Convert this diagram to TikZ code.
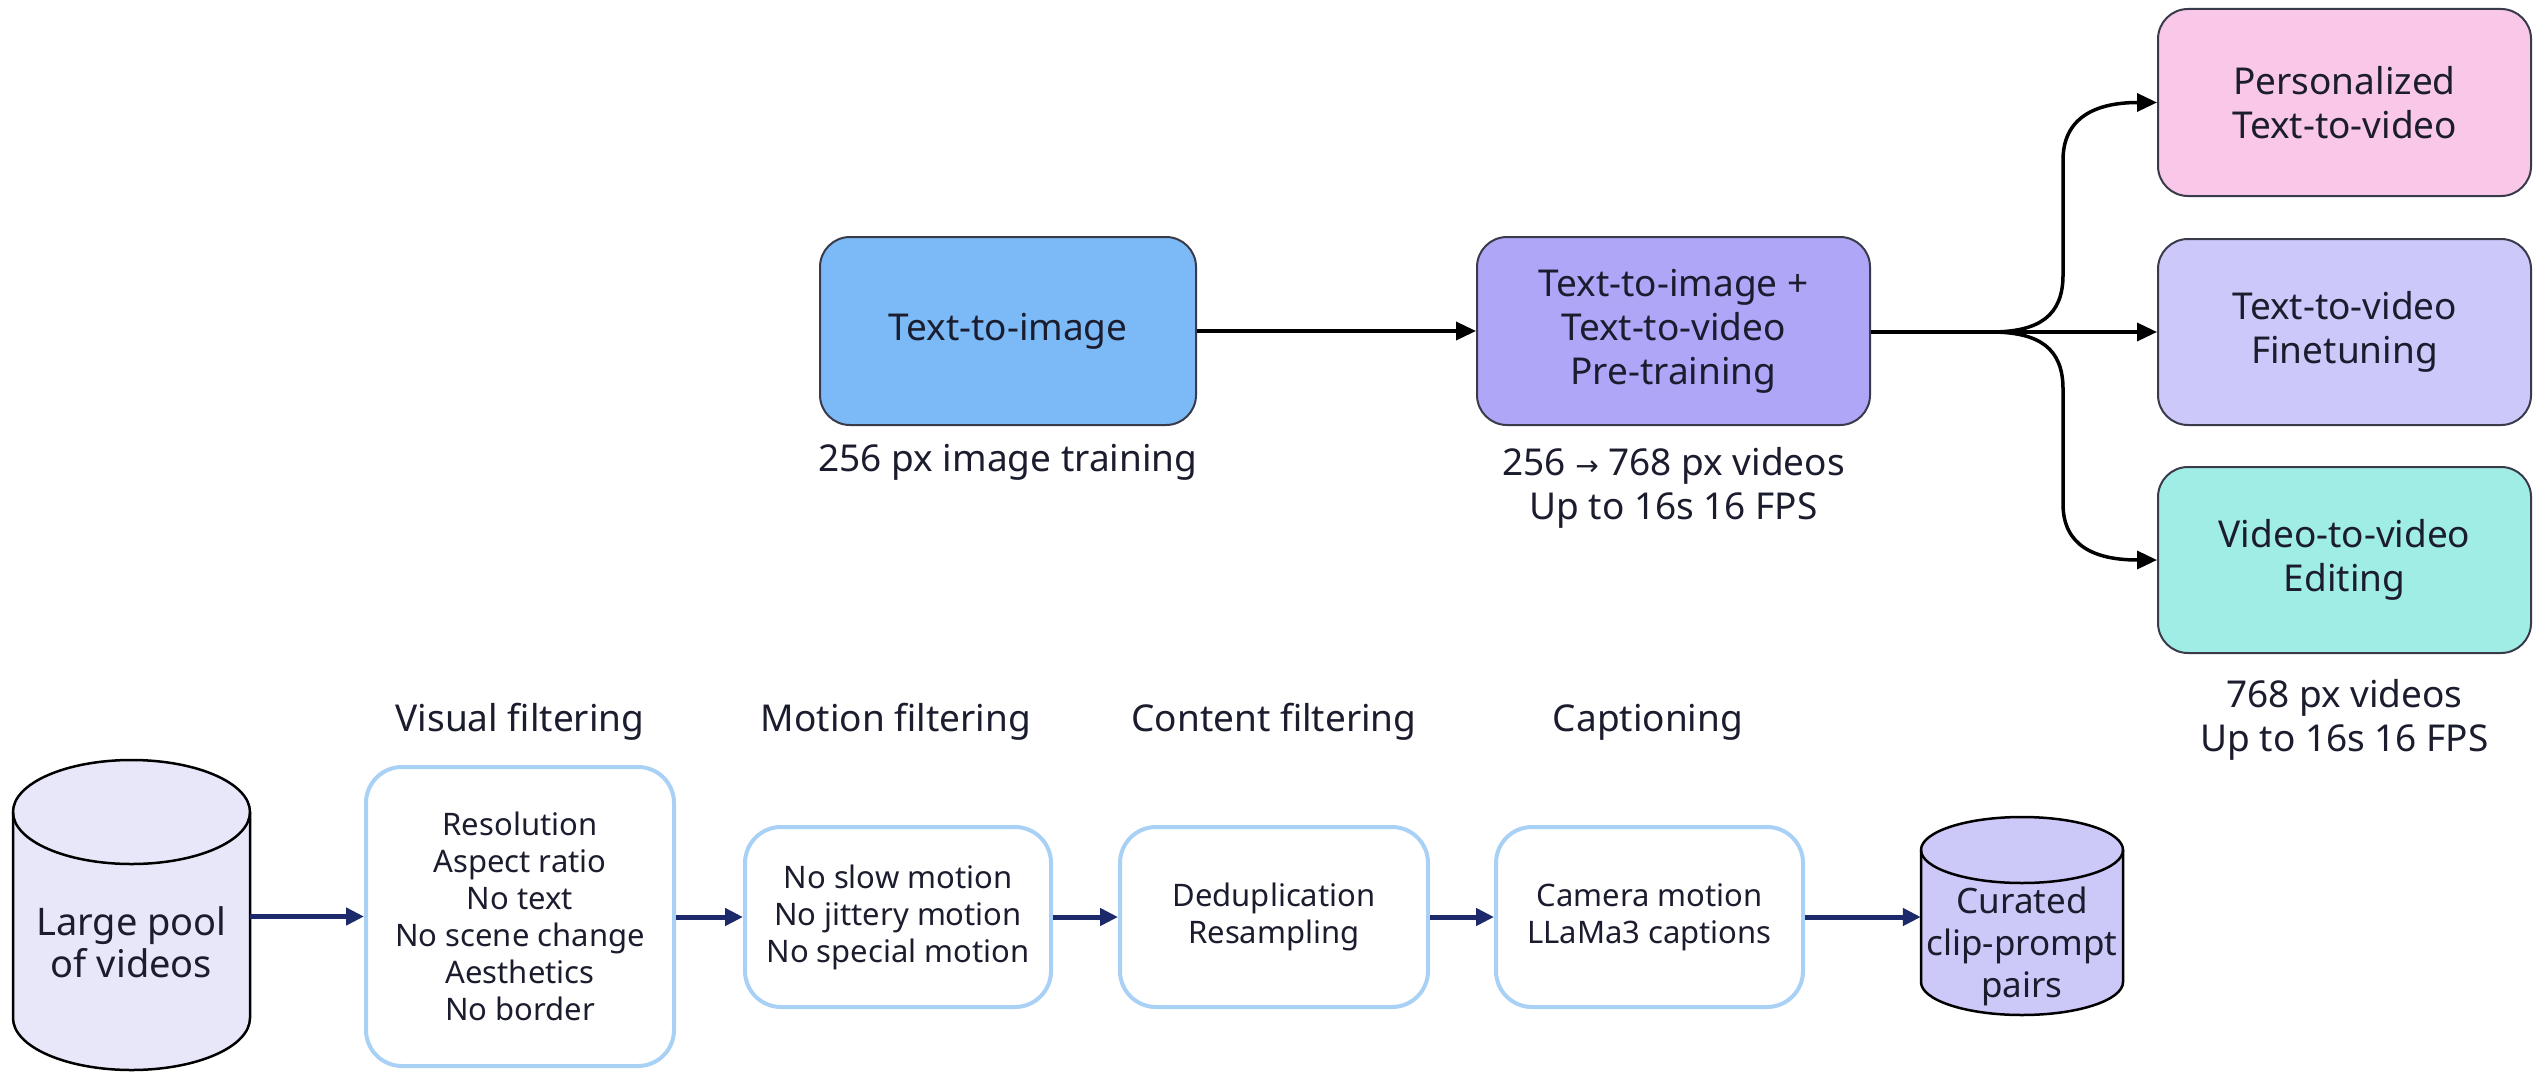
\documentclass[tikz,border=0pt]{standalone}
\usepackage{fontspec}
\setmainfont{Noto Sans}
\newfontfamily\arrowglyph{DejaVu Sans}
\usetikzlibrary{arrows.meta}

\definecolor{ink}{HTML}{1B1D2E}
\definecolor{edge}{HTML}{3A3B4A}
\definecolor{navy}{HTML}{1C2A6B}
\definecolor{filteredge}{HTML}{A9D1F5}
\definecolor{tiblue}{HTML}{7BBAF7}
\definecolor{prelav}{HTML}{B0A6F8}
\definecolor{perspink}{HTML}{F9C7E7}
\definecolor{finelav}{HTML}{CDC8FA}
\definecolor{editteal}{HTML}{9FEDE5}
\definecolor{poolfill}{HTML}{E8E7FA}
\definecolor{curfill}{HTML}{CCC8F8}

\newcommand\fsTop{\fontsize{37}{44}\selectfont}
\newcommand\fsBox{\fontsize{31}{37}\selectfont}
\newcommand\fsCyl{\fontsize{38}{42}\selectfont}
\newcommand\fsCur{\fontsize{35}{42}\selectfont}

\tikzset{
  stagebox/.style={draw=edge, line width=2pt, rounded corners=30pt,
    align=center, font=\fsTop, text=ink, inner sep=0pt},
  filterbox/.style={draw=filteredge, line width=4pt, rounded corners=36pt,
    fill=white, align=center, font=\fsBox, text=ink, inner sep=0pt},
  note/.style={align=center, font=\fsTop, text=ink, inner sep=0pt},
  anchorbox/.style={inner sep=0pt, draw=none},
  cyl/.style={draw=black, line width=2.5pt},
  flowline/.style={line width=3.5pt, draw=black},
  flow/.style={flowline, -{Triangle[length=20pt,width=18pt]}},
  feed/.style={line width=5pt, draw=navy, -{Triangle[length=18pt,width=17pt]}},
}

\begin{document}
\begin{tikzpicture}[x=1pt, y=-1pt]
  \fill[white] (0,0) rectangle (2539,1073);
  \useasboundingbox (0,0) rectangle (2539,1073);

  % ---- training stages ----
  \node[stagebox, fill=tiblue, minimum width=376pt, minimum height=188pt]
    (t2i) at (1008,331) {Text-to-image};
  \node[stagebox, fill=prelav, minimum width=393pt, minimum height=188pt]
    (pre) at (1673.5,331) {Text-to-image +\\Text-to-video\\Pre-training};
  \node[stagebox, fill=perspink, minimum width=373pt, minimum height=187pt]
    (pers) at (2344.5,102.5) {Personalized\\Text-to-video};
  \node[stagebox, fill=finelav, minimum width=373pt, minimum height=186pt]
    (fine) at (2344.5,332) {Text-to-video\\Finetuning};
  \node[stagebox, fill=editteal, minimum width=373pt, minimum height=186pt]
    (edit) at (2344.5,560) {Video-to-video\\Editing};

  \node[note] (t2inote) at (1008,462) {256 px image training};
  \node[note] (prenote) at (1673.5,488)
    {256 {\arrowglyph\fontsize{28}{44}\selectfont →} 768 px videos\\Up to 16s 16 FPS};
  \node[note] (editnote) at (2344.5,720) {768 px videos\\Up to 16s 16 FPS};

  \draw[flow] (t2i.east) -- (pre.west);
  \coordinate (fork) at (1991,332);
  \draw[flowline] (pre.east |- fork) -- (fork);
  \draw[flow] (fork) -- (fine.west |- fork);
  \draw[flow] (fork) .. controls (2040,332) and (2063,315) .. (2063,275)
    -- (2063,160) .. controls (2063,118) and (2095,102.5) .. (pers.west);
  \draw[flow] (fork) .. controls (2040,332) and (2063,349) .. (2063,389)
    -- (2063,504) .. controls (2063,546) and (2095,560) .. (edit.west);

  % ---- data curation pipeline ----
  \filldraw[cyl, fill=poolfill] (13,812) -- (13,1018)
    arc[start angle=180, end angle=360, x radius=118.5pt, y radius=52pt]
    -- (250,812)
    arc[start angle=0, end angle=180, x radius=118.5pt, y radius=52pt] -- cycle;
  \draw[cyl] (13,812)
    arc[start angle=180, end angle=360, x radius=118.5pt, y radius=52pt];
  \node[anchorbox, minimum width=237pt, minimum height=310pt] (pool) at (131.5,916) {};
  \node[align=center, font=\fsCyl, text=ink, inner sep=0pt] (pooltext) at (131.5,942)
    {Large pool\\of videos};

  \filldraw[cyl, fill=curfill] (1921,850) -- (1921,982)
    arc[start angle=180, end angle=360, x radius=101pt, y radius=33pt]
    -- (2123,850)
    arc[start angle=0, end angle=180, x radius=101pt, y radius=33pt] -- cycle;
  \draw[cyl] (1921,850)
    arc[start angle=180, end angle=360, x radius=101pt, y radius=33pt];
  \node[anchorbox, minimum width=202pt, minimum height=198pt] (curated) at (2022,916) {};
  \node[align=center, font=\fsCur, text=ink, inner sep=0pt] (curtext) at (2022,946)
    {Curated\\clip-prompt\\pairs};

  \node[filterbox, minimum width=308pt, minimum height=299pt] (visual) at (520,916.5)
    {Resolution\\Aspect ratio\\No text\\No scene change\\Aesthetics\\No border};
  \node[filterbox, minimum width=306pt, minimum height=180pt] (motion) at (898,917)
    {No slow motion\\No jittery motion\\No special motion};
  \node[filterbox, minimum width=308pt, minimum height=180pt] (content) at (1274,917)
    {Deduplication\\Resampling};
  \node[filterbox, minimum width=307pt, minimum height=180pt] (caption) at (1649.5,917)
    {Camera motion\\LLaMa3 captions};

  \node[note] (visualhead) at (520,722) {Visual filtering};
  \node[note] (motionhead) at (896,722) {Motion filtering};
  \node[note] (contenthead) at (1274,722) {Content filtering};
  \node[note] (captionhead) at (1648,722) {Captioning};

  \draw[feed] (pool.east |- visual.west) -- (visual.west);
  \draw[feed] (visual.east |- motion.west) -- (motion.west);
  \draw[feed] (motion.east) -- (content.west);
  \draw[feed] (content.east) -- (caption.west);
  \draw[feed] (caption.east) -- (curated.west |- caption.east);
\end{tikzpicture}
\end{document}
